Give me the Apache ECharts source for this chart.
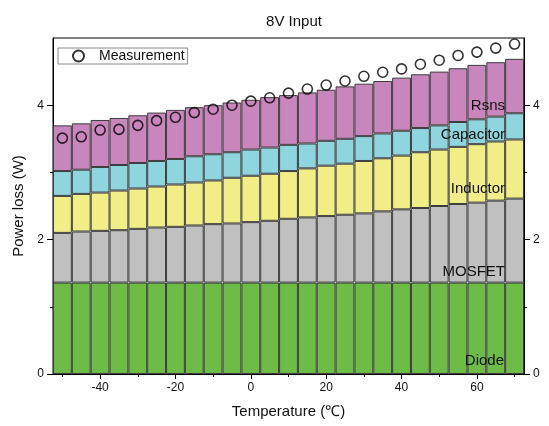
<!DOCTYPE html>
<html>
<head>
<meta charset="utf-8">
<script src="https://cdn.jsdelivr.net/npm/echarts@6/dist/echarts.min.js"></script>
<style>
  html, body { margin: 0; padding: 0; background: #fff; }
  #chart { width: 549px; height: 426px; }
</style>
</head>
<body>
<div id="chart"></div>
<script>
// Loss breakdown of the converter at 8 V input, one stacked bar per temperature step
const temperatures = [-50, -45, -40, -35, -30, -25, -20, -15, -10, -5, 0, 5, 10, 15, 20, 25, 30, 35, 40, 45, 50, 55, 60, 65, 70];

const diodeLoss     = [1.36, 1.36, 1.36, 1.36, 1.36, 1.36, 1.36, 1.36, 1.36, 1.36, 1.36, 1.36, 1.36, 1.36, 1.36, 1.36, 1.36, 1.36, 1.36, 1.36, 1.36, 1.36, 1.36, 1.36, 1.36];
const mosfetLoss    = [0.74, 0.76, 0.77, 0.78, 0.80, 0.82, 0.83, 0.85, 0.87, 0.88, 0.90, 0.92, 0.95, 0.97, 0.99, 1.01, 1.03, 1.06, 1.09, 1.11, 1.14, 1.17, 1.19, 1.22, 1.25];
const inductorLoss  = [0.55, 0.56, 0.57, 0.59, 0.60, 0.61, 0.63, 0.64, 0.65, 0.68, 0.69, 0.70, 0.71, 0.73, 0.75, 0.76, 0.78, 0.79, 0.80, 0.83, 0.84, 0.85, 0.87, 0.88, 0.88];
const capacitorLoss = [0.37, 0.36, 0.38, 0.38, 0.38, 0.38, 0.38, 0.39, 0.39, 0.38, 0.39, 0.39, 0.39, 0.37, 0.37, 0.37, 0.37, 0.37, 0.37, 0.36, 0.36, 0.37, 0.37, 0.37, 0.39];
const rsnsLoss      = [0.68, 0.69, 0.70, 0.70, 0.71, 0.72, 0.73, 0.73, 0.73, 0.74, 0.74, 0.75, 0.74, 0.76, 0.76, 0.78, 0.78, 0.78, 0.79, 0.80, 0.80, 0.80, 0.81, 0.81, 0.81];
const measuredLoss  = [3.51, 3.53, 3.63, 3.64, 3.70, 3.77, 3.82, 3.89, 3.94, 4.00, 4.06, 4.11, 4.18, 4.24, 4.30, 4.36, 4.43, 4.49, 4.54, 4.61, 4.67, 4.74, 4.79, 4.85, 4.91];

const xMajorTicks = [-40, -20, 0, 20, 40, 60];
const xMinorTicks = [-50, -30, -10, 10, 30, 50, 70];
const yMajorTicks = [0, 2, 4];
const yMinorTicks = [1, 3];

const FONT = 'Liberation Sans, Arial, sans-serif';
const edgeColor = '#3c3c3c';

function stackBar(name, values, color) {
  return {
    name: name,
    type: 'bar',
    stack: 'loss',
    xAxisIndex: 0,
    yAxisIndex: 0,
    barCategoryGap: '0%',
    data: values,
    itemStyle: { color: color, borderColor: edgeColor, borderWidth: 1 },
    emphasis: { disabled: true }
  };
}

function valueXAxis(ticks, len, labels) {
  return {
    type: 'value',
    position: 'bottom',
    min: -52.5,
    max: 72.5,
    splitLine: { show: false },
    axisLine: { show: labels, onZero: false, lineStyle: { color: '#000', width: 1 } },
    axisTick: { show: true, inside: false, length: len, customValues: ticks, lineStyle: { color: '#000', width: 1 } },
    axisLabel: labels
      ? { show: true, customValues: ticks, margin: 8, fontSize: 12, fontFamily: FONT, color: '#111' }
      : { show: false },
    name: labels ? 'Temperature (℃)' : '',
    nameLocation: 'middle',
    nameGap: 30,
    nameTextStyle: { fontSize: 15, fontFamily: FONT, color: '#111' }
  };
}

function valueYAxis(pos, ticks, len, labels, withName) {
  return {
    type: 'value',
    position: pos,
    min: 0,
    max: 5,
    splitLine: { show: false },
    axisLine: { show: labels, onZero: false, lineStyle: { color: '#000', width: 1 } },
    axisTick: { show: true, inside: false, length: len, customValues: ticks, lineStyle: { color: '#000', width: 1 } },
    axisLabel: labels
      ? { show: true, customValues: ticks, margin: 9, fontSize: 12, fontFamily: FONT, color: '#111' }
      : { show: false },
    name: withName ? 'Power loss (W)' : '',
    nameLocation: 'middle',
    nameGap: 25,
    nameRotate: 90,
    nameTextStyle: { fontSize: 15, fontFamily: FONT, color: '#111' }
  };
}

function partLabel(text, top, right) {
  return {
    type: 'text', right: right, top: top, z: 100,
    style: { text: text, fontSize: 15, fontFamily: FONT, fill: '#111' }
  };
}

const chart = echarts.init(document.getElementById('chart'), null, { renderer: 'canvas' });

chart.setOption({
  backgroundColor: '#fff',
  animation: false,
  title: {
    text: '8V Input',
    left: 289,
    top: 9,
    textAlign: 'center',
    textStyle: { fontSize: 15, fontWeight: 'normal', fontFamily: FONT, color: '#111' }
  },
  grid: {
    left: 53, right: 25, top: 38, bottom: 52,
    show: true, borderColor: '#000', borderWidth: 1, backgroundColor: 'transparent'
  },
  legend: {
    data: ['Measurement'],
    left: 58,
    top: 48,
    orient: 'vertical',
    padding: [1, 3, 1, 14],
    borderColor: '#8a8a8a',
    borderWidth: 1,
    borderRadius: 0,
    itemWidth: 11,
    itemHeight: 11,
    textStyle: { fontSize: 14, fontFamily: FONT, color: '#111', padding: [0, 0, 0, 10] }
  },
  xAxis: [
    { type: 'category', data: temperatures, show: false, boundaryGap: true },
    valueXAxis(xMajorTicks, 5, true),
    valueXAxis(xMinorTicks, 3, false)
  ],
  yAxis: [
    valueYAxis('left', yMajorTicks, 6, true, true),
    valueYAxis('left', yMinorTicks, 3, false, false),
    valueYAxis('right', yMajorTicks, 6, true, false),
    valueYAxis('right', yMinorTicks, 3, false, false)
  ],
  series: [
    stackBar('Diode', diodeLoss, '#6cbc45'),
    stackBar('MOSFET', mosfetLoss, '#c0c0c0'),
    stackBar('Inductor', inductorLoss, '#f2ee87'),
    stackBar('Capacitor', capacitorLoss, '#8fd5de'),
    stackBar('Rsns', rsnsLoss, '#c986bd'),
    {
      name: 'Measurement',
      type: 'scatter',
      xAxisIndex: 0,
      yAxisIndex: 0,
      data: measuredLoss,
      symbol: 'circle',
      symbolSize: 10,
      itemStyle: { color: 'rgba(255,255,255,0)', borderColor: '#000', borderWidth: 1.6 },
      z: 5,
      emphasis: { disabled: true }
    }
  ],
  graphic: [
    partLabel('Rsns', 98, 44),
    partLabel('Capacitor', 127, 44),
    partLabel('Inductor', 181, 44),
    partLabel('MOSFET', 264, 44),
    partLabel('Diode', 353, 45)
  ]
});
</script>
</body>
</html>
